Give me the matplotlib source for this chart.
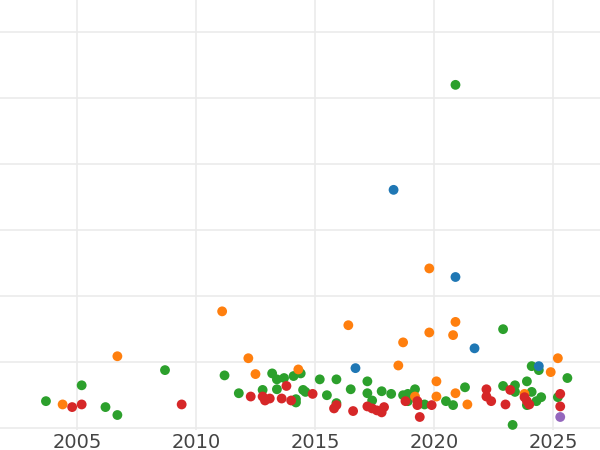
import matplotlib.pyplot as plt

# year, value per group
green_x = [2003.7, 2005.2, 2006.2, 2006.7, 2008.7, 2011.2, 2011.8, 2012.8, 2013.2, 2013.4, 2013.4, 2013.7,
           2014.1, 2014.4, 2014.2, 2014.2, 2014.5, 2014.6, 2015.2, 2015.5, 2015.9, 2015.9, 2016.5, 2017.2,
           2017.2, 2017.4, 2017.8, 2018.2, 2018.7, 2018.9, 2019.2, 2018.9, 2019.6, 2020.5, 2020.8, 2021.3,
           2020.9, 2022.9, 2022.9, 2023.3, 2023.4, 2023.4, 2024.1, 2023.9, 2024.1, 2023.9, 2024.3, 2024.4,
           2024.5, 2025.2, 2025.6]
green_y = [4.1, 6.5, 3.2, 2.0, 8.8, 8.0, 5.3, 5.8, 8.3, 7.4, 5.9, 7.6,
           7.9, 8.3, 4.4, 3.9, 5.8, 5.5, 7.4, 5.0, 7.4, 3.8, 5.9, 7.1,
           5.3, 4.2, 5.6, 5.2, 5.0, 5.2, 5.9, 4.1, 3.6, 4.1, 3.5, 6.2,
           52.0, 15.0, 6.4, 0.5, 6.5, 5.5, 9.4, 7.1, 5.5, 3.5, 4.1, 8.8,
           4.7, 4.7, 7.6]

blue_x = [2018.3, 2020.9, 2021.7, 2016.7, 2024.4]
blue_y = [36.1, 22.9, 12.1, 9.1, 9.4]

orange_x = [2004.4, 2006.7, 2011.1, 2012.2, 2012.5, 2014.3, 2016.4, 2018.5, 2018.7, 2019.8, 2019.8,
            2020.9, 2020.8, 2020.1, 2020.1, 2020.9, 2019.2, 2021.4, 2023.8, 2024.9, 2025.2]
orange_y = [3.6, 10.9, 17.7, 10.6, 8.2, 8.9, 15.6, 9.5, 13.0, 24.2, 14.5,
            16.1, 14.1, 7.1, 4.8, 5.3, 4.8, 3.6, 5.2, 8.5, 10.6]

red_x = [2004.8, 2005.2, 2009.4, 2012.3, 2012.8, 2012.9, 2013.1, 2013.8, 2013.6, 2014.0, 2014.9,
         2015.8, 2015.9, 2016.6, 2017.2, 2017.4, 2017.6, 2017.8, 2017.9, 2018.8, 2019.3, 2019.3,
         2019.4, 2019.9, 2022.2, 2022.2, 2022.4, 2023.0, 2023.2, 2023.8, 2023.9, 2024.0, 2025.3, 2025.3]
red_y = [3.2, 3.6, 3.6, 4.8, 4.8, 4.2, 4.5, 6.4, 4.5, 4.2, 5.2,
         3.0, 3.5, 2.6, 3.3, 3.0, 2.7, 2.4, 3.2, 4.1, 4.1, 3.5,
         1.7, 3.5, 5.9, 4.8, 4.1, 3.6, 5.8, 4.7, 4.1, 3.6, 5.2, 3.3]

purple_x = [2025.3]
purple_y = [1.7]

years = [2005, 2010, 2015, 2020, 2025]

fig = plt.figure(figsize=(6, 4.5), dpi=100)
ax = fig.add_axes([0, 0.044, 1, 0.956])

for xs, ys, c in [(green_x, green_y, "#2ca02c"), (blue_x, blue_y, "#1f77b4"),
                  (orange_x, orange_y, "#ff7f0e"), (red_x, red_y, "#d62728"),
                  (purple_x, purple_y, "#9467bd")]:
    ax.scatter(xs, ys, s=50, color=c, edgecolors="none", zorder=3)

ax.set_xlim(2001.77, 2026.97)
ax.set_ylim(-0.3, 64.85)
ax.set_xticks(years)
ax.set_yticks(range(0, 70, 10))
ax.set_yticklabels([])
ax.tick_params(length=0, labelsize=14, colors="#444444", pad=2)
ax.grid(color="#ebebeb", linewidth=1.2, zorder=0)
for s in ax.spines.values():
    s.set_visible(False)

fig.savefig("out.png")
